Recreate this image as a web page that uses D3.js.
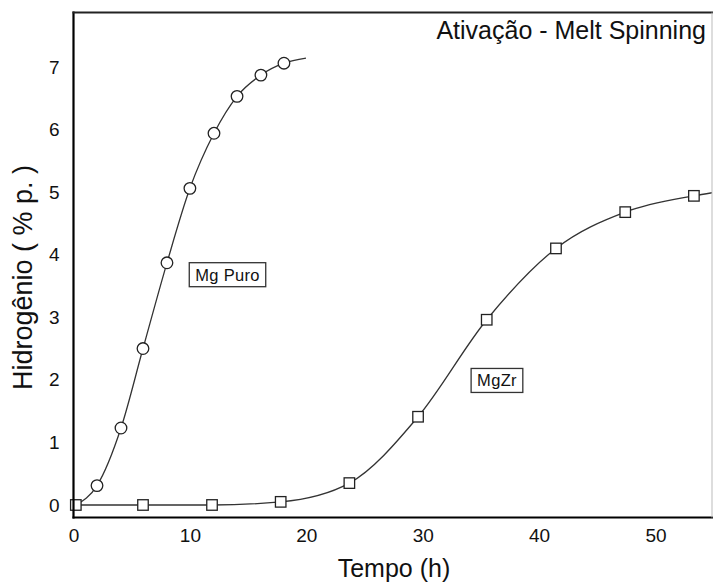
<!DOCTYPE html>
<html>
<head>
<meta charset="utf-8">
<script src="https://cdn.jsdelivr.net/npm/d3@7"></script>
<style>
  html, body { margin: 0; padding: 0; background: #fff; }
  svg { display: block; font-family: "Liberation Sans", Arial, sans-serif; }
</style>
</head>
<body>
<svg id="chart" width="713" height="585"></svg>
<script>
// Hydrogen uptake during activation (melt-spun samples)
const chartTitle = "Ativação - Melt Spinning";
const xTitle = "Tempo (h)";
const yTitle = "Hidrogênio ( % p. )";
const xTicks = [0, 10, 20, 30, 40, 50];
const yTicks = [0, 1, 2, 3, 4, 5, 6, 7];

// Mg Puro: measured points (circles)
const puroTime = [2.02, 4.08, 5.97, 8.03, 10.0, 12.07, 14.05, 16.1, 18.08];
const puroH = [0.31, 1.23, 2.5, 3.87, 5.06, 5.94, 6.53, 6.87, 7.06];
// fitted curve start / end for Mg Puro
const puroFitStart = [0.2, 0.0];
const puroFitEnd = [19.97, 7.14];

// MgZr: measured points (squares)
const zrTime = [0.2, 5.97, 11.9, 17.8, 23.7, 29.6, 35.5, 41.45, 47.4, 53.3];
const zrH = [0.0, 0.0, 0.0, 0.05, 0.35, 1.41, 2.96, 4.1, 4.68, 4.94];
// fitted curve end for MgZr
const zrFitEnd = [55.2, 5.0];

const seriesLabels = ["Mg Puro", "MgZr"];
// label box centres in data units (time, H)
const labelAt = [[13.23, 3.68], [36.38, 1.99]];

const svg = d3.select("#chart");
const plotLeft = 73.5, plotRight = 712, plotTop = 12.5, plotBottom = 517.5;

const x = d3.scaleLinear().domain([0, 55]).range([plotLeft, 713.7]);
const y = d3.scaleLinear().domain([-0.2, 7.87]).range([plotBottom, plotTop]);

svg.append("defs").append("clipPath").attr("id", "plotClip")
  .append("rect").attr("x", plotLeft).attr("y", plotTop)
  .attr("width", plotRight - plotLeft).attr("height", plotBottom - plotTop);

// axes (labels only, no tick marks)
const xAxis = d3.axisBottom(x).tickValues(xTicks).tickSize(0).tickPadding(11);
const yAxis = d3.axisLeft(y).tickValues(yTicks).tickSize(0).tickPadding(14);

const gx = svg.append("g").attr("transform", `translate(0,${plotBottom})`).call(xAxis);
const gy = svg.append("g").attr("transform", `translate(${plotLeft},0)`).call(yAxis);
[gx, gy].forEach(g => {
  g.select(".domain").remove();
  g.selectAll("text").attr("font-size", 19).attr("fill", "#111")
    .attr("font-family", "'Liberation Sans', Arial, sans-serif");
});

const line = d3.line().x(d => x(d[0])).y(d => y(d[1])).curve(d3.curveMonotoneX);
const plot = svg.append("g").attr("clip-path", "url(#plotClip)");

const puroPts = [puroFitStart].concat(d3.zip(puroTime, puroH)).concat([puroFitEnd]);
const zrPts = d3.zip(zrTime, zrH).concat([zrFitEnd]);

plot.append("path").datum(puroPts).attr("d", line)
  .attr("fill", "none").attr("stroke", "#333").attr("stroke-width", 1.3);
plot.append("path").datum(zrPts).attr("d", line)
  .attr("fill", "none").attr("stroke", "#333").attr("stroke-width", 1.3);

// markers
svg.append("g").selectAll("circle").data(d3.zip(puroTime, puroH)).join("circle")
  .attr("cx", d => x(d[0])).attr("cy", d => y(d[1])).attr("r", 5.8)
  .attr("fill", "#fff").attr("stroke", "#222").attr("stroke-width", 1.3);
const sq = 10.5;
svg.append("g").selectAll("rect").data(d3.zip(zrTime, zrH)).join("rect")
  .attr("x", d => x(d[0]) - sq / 2).attr("y", d => y(d[1]) - sq / 2)
  .attr("width", sq).attr("height", sq)
  .attr("fill", "#fff").attr("stroke", "#222").attr("stroke-width", 1.3);

// frame: left, bottom, top in black; right edge faint
svg.append("line").attr("x1", plotLeft).attr("x2", plotLeft).attr("y1", plotTop - 1).attr("y2", plotBottom + 1)
  .attr("stroke", "#000").attr("stroke-width", 2.2);
svg.append("line").attr("x1", plotLeft - 1).attr("x2", 713).attr("y1", plotBottom).attr("y2", plotBottom)
  .attr("stroke", "#000").attr("stroke-width", 2.2);
svg.append("line").attr("x1", plotLeft - 1).attr("x2", 713).attr("y1", plotTop).attr("y2", plotTop)
  .attr("stroke", "#222").attr("stroke-width", 2);
svg.append("line").attr("x1", plotRight).attr("x2", plotRight).attr("y1", plotTop).attr("y2", plotBottom)
  .attr("stroke", "#bbb").attr("stroke-width", 1);

// series labels in boxes
seriesLabels.forEach((t, i) => {
  const g = svg.append("g");
  const cx = x(labelAt[i][0]), cy = y(labelAt[i][1]);
  const txt = g.append("text").attr("x", cx).attr("y", cy + 6)
    .attr("text-anchor", "middle").attr("font-size", 16.5).attr("fill", "#111")
    .attr("letter-spacing", 0.3).text(t);
  const w = txt.node().getComputedTextLength();
  g.insert("rect", "text").attr("x", cx - w / 2 - 6).attr("y", cy - 12)
    .attr("width", w + 12).attr("height", 24)
    .attr("fill", "#fff").attr("stroke", "#333").attr("stroke-width", 1.3);
});

// titles
svg.append("text").attr("x", 706).attr("y", 39).attr("text-anchor", "end")
  .attr("font-size", 25).attr("fill", "#111").text(chartTitle);
svg.append("text").attr("x", (336 + 452) / 2).attr("y", 577).attr("text-anchor", "middle")
  .attr("font-size", 25).attr("fill", "#111").text(xTitle);
svg.append("text").attr("transform", `translate(32,${(162 + 393) / 2}) rotate(-90)`)
  .attr("text-anchor", "middle").attr("font-size", 27).attr("fill", "#111").text(yTitle);
</script>
</body>
</html>
